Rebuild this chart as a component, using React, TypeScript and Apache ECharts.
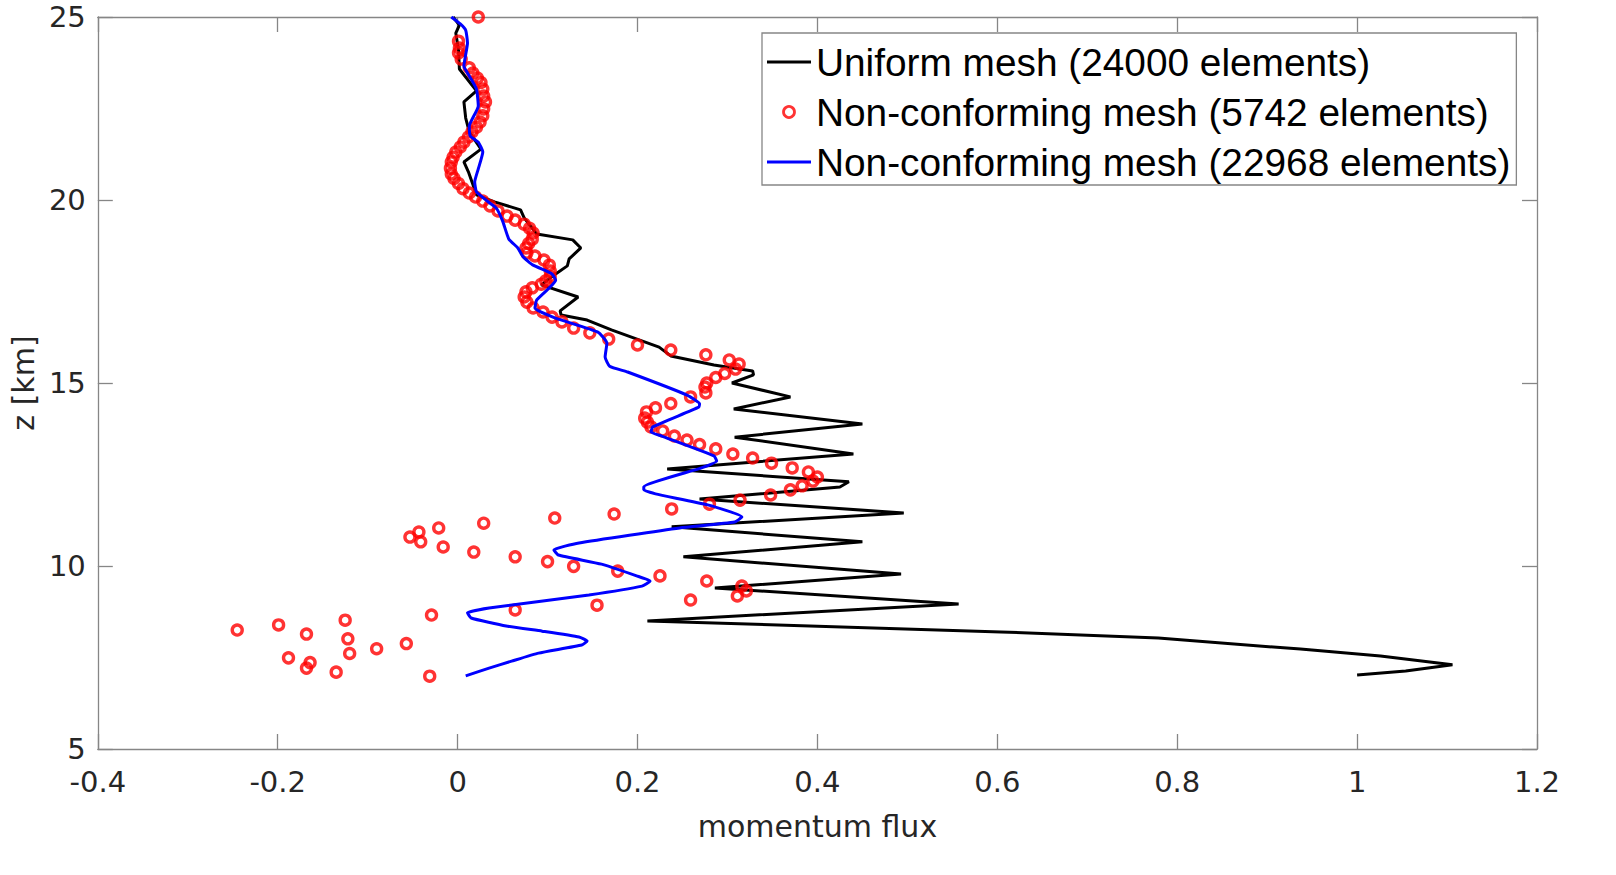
import React, { useEffect, useRef } from "react";
import * as echarts from "echarts";

// [momentum flux, z (km)]
const uniformMesh: [number, number][] = [
  [-0.005, 25.0], [0.002, 24.78], [-0.002, 24.56], [0.001, 24.1], [0.002, 23.58], [0.021, 22.98],
  [0.007, 22.68], [0.009, 22.24], [0.013, 21.86], [0.026, 21.39], [0.007, 21.04], [0.012, 20.77],
  [0.016, 20.49], [0.021, 20.14], [0.041, 19.95], [0.07, 19.73], [0.074, 19.51], [0.088, 19.07],
  [0.128, 18.91], [0.137, 18.69], [0.124, 18.39], [0.122, 18.2], [0.109, 17.98], [0.093, 17.68],
  [0.134, 17.35], [0.114, 16.97], [0.115, 16.86], [0.144, 16.72], [0.171, 16.45], [0.224, 15.98],
  [0.237, 15.74], [0.285, 15.49], [0.328, 15.33], [0.329, 15.22], [0.305, 15.0], [0.37, 14.62],
  [0.307, 14.29], [0.45, 13.88], [0.308, 13.52], [0.44, 13.06], [0.233, 12.65], [0.435, 12.3],
  [0.425, 12.16], [0.269, 11.83], [0.496, 11.45], [0.238, 11.07], [0.45, 10.66], [0.251, 10.25],
  [0.493, 9.78], [0.286, 9.4], [0.557, 8.96], [0.211, 8.5], [0.604, 8.2], [0.779, 8.03],
  [0.937, 7.73], [1.026, 7.54], [1.106, 7.3], [1.054, 7.13], [1.0, 7.02],
];

const coarseNonConforming: [number, number][] = [
  [0.023, 25.0], [0.001, 24.34], [0.002, 24.15], [0.001, 24.02], [0.004, 23.85], [0.013, 23.61],
  [0.017, 23.47], [0.022, 23.33], [0.026, 23.21], [0.028, 23.03], [0.029, 22.84], [0.031, 22.68],
  [0.029, 22.49], [0.028, 22.3], [0.025, 22.13], [0.021, 21.99], [0.016, 21.86], [0.012, 21.72],
  [0.007, 21.58], [0.003, 21.45], [-0.002, 21.31], [-0.005, 21.17], [-0.007, 21.04], [-0.008, 20.87],
  [-0.007, 20.71], [-0.004, 20.59], [0.001, 20.45], [0.006, 20.31], [0.013, 20.19], [0.02, 20.08],
  [0.028, 19.97], [0.036, 19.84], [0.045, 19.7], [0.055, 19.56], [0.064, 19.45], [0.074, 19.34],
  [0.08, 19.23], [0.084, 19.1], [0.083, 18.93], [0.079, 18.81], [0.076, 18.69], [0.077, 18.55],
  [0.086, 18.47], [0.096, 18.36], [0.102, 18.22], [0.103, 18.06], [0.103, 17.9], [0.098, 17.79],
  [0.093, 17.7], [0.083, 17.6], [0.076, 17.49], [0.074, 17.35], [0.077, 17.21], [0.084, 17.05],
  [0.095, 16.94], [0.105, 16.8], [0.116, 16.67], [0.129, 16.5], [0.147, 16.37], [0.168, 16.2],
  [0.2, 16.04], [0.237, 15.9], [0.276, 15.77], [0.302, 15.63], [0.313, 15.52], [0.309, 15.38],
  [0.297, 15.26], [0.287, 15.15], [0.277, 15.0], [0.275, 14.89], [0.276, 14.73], [0.259, 14.62],
  [0.237, 14.44], [0.22, 14.32], [0.21, 14.21], [0.208, 14.04], [0.211, 13.93], [0.215, 13.8],
  [0.228, 13.69], [0.241, 13.55], [0.255, 13.44], [0.269, 13.32], [0.287, 13.2], [0.306, 13.06],
  [0.328, 12.95], [0.349, 12.81], [0.372, 12.68], [0.39, 12.57], [0.4, 12.43], [0.395, 12.32],
  [0.383, 12.19], [0.37, 12.08], [0.348, 11.94], [0.314, 11.8], [0.28, 11.69], [0.238, 11.56],
  [0.174, 11.42], [0.108, 11.31], [0.029, 11.17], [-0.021, 11.04], [-0.043, 10.93], [-0.053, 10.79],
  [-0.041, 10.66], [-0.016, 10.52], [0.018, 10.38], [0.064, 10.25], [0.1, 10.12], [0.129, 9.99],
  [0.178, 9.86], [0.225, 9.73], [0.277, 9.59], [0.316, 9.45], [0.321, 9.32], [0.311, 9.18],
  [0.259, 9.07], [0.155, 8.93], [0.064, 8.8], [-0.029, 8.66], [-0.125, 8.52], [-0.199, 8.39],
  [-0.245, 8.25], [-0.168, 8.14], [-0.122, 8.01], [-0.057, 7.88], [-0.09, 7.74], [-0.12, 7.61],
  [-0.188, 7.49], [-0.164, 7.36], [-0.168, 7.21], [-0.135, 7.1], [-0.031, 6.99],
];

const fineNonConforming: [number, number][] = [
  [-0.007, 25.0], [0.003, 24.81], [0.009, 24.64], [0.011, 24.29], [0.007, 23.66], [0.013, 23.39],
  [0.021, 23.03], [0.023, 22.57], [0.013, 22.02], [0.014, 21.75], [0.023, 21.58], [0.028, 21.31],
  [0.023, 20.85], [0.019, 20.49], [0.021, 20.22], [0.033, 19.97], [0.043, 19.78], [0.05, 19.43],
  [0.057, 18.93], [0.067, 18.69], [0.073, 18.44], [0.084, 18.22], [0.105, 17.98], [0.109, 17.81],
  [0.102, 17.6], [0.088, 17.27], [0.086, 17.05], [0.108, 16.78], [0.156, 16.39], [0.166, 16.09],
  [0.164, 15.71], [0.169, 15.46], [0.189, 15.3], [0.255, 14.67], [0.269, 14.43], [0.268, 14.34],
  [0.217, 13.8], [0.215, 13.66], [0.227, 13.55], [0.285, 13.01], [0.288, 12.87], [0.271, 12.68],
  [0.207, 12.16], [0.207, 12.08], [0.22, 11.97], [0.278, 11.67], [0.316, 11.34], [0.308, 11.2],
  [0.247, 11.04], [0.135, 10.63], [0.107, 10.44], [0.112, 10.3], [0.16, 10.05], [0.199, 9.73],
  [0.214, 9.59], [0.205, 9.45], [0.146, 9.21], [0.035, 8.85], [0.011, 8.72], [0.015, 8.58],
  [0.054, 8.36], [0.094, 8.22], [0.135, 8.06], [0.144, 7.95], [0.138, 7.84], [0.09, 7.62],
  [0.06, 7.4], [0.035, 7.21], [0.009, 7.0],
];

const seriesNames = [
  "Uniform mesh (24000 elements)",
  "Non-conforming mesh (5742 elements)",
  "Non-conforming mesh (22968 elements)",
];

const xRange = { min: -0.4, max: 1.2, step: 0.2 };
const yRange = { min: 5, max: 25, step: 5 };

const AXIS_GRAY = "#868686";
const TEXT_DARK = "#262626";
const AXIS_FONT = "DejaVu Sans";
const LINE_ICON = "path://M0,0H44V3H0Z";

export default function App() {
  const ref = useRef<HTMLDivElement>(null);

  useEffect(() => {
    if (!ref.current) return;
    const chart = echarts.init(ref.current, undefined, { renderer: "svg" });

    const boxAxis = {
      axisLine: { show: true, onZero: false, lineStyle: { color: AXIS_GRAY, width: 1.3 } },
      axisTick: { show: true, inside: true, length: 15, lineStyle: { color: AXIS_GRAY, width: 1.3 } },
      splitLine: { show: false },
    };

    chart.setOption({
      animation: false,
      backgroundColor: "#ffffff",
      grid: { left: 95, top: 17, width: 1442, height: 732, containLabel: false },
      xAxis: [
        {
          type: "value",
          position: "bottom",
          min: xRange.min,
          max: xRange.max,
          interval: xRange.step,
          name: "momentum flux",
          nameLocation: "middle",
          nameGap: 62,
          nameTextStyle: { fontFamily: AXIS_FONT, fontSize: 30, color: TEXT_DARK },
          axisLabel: { fontFamily: AXIS_FONT, fontSize: 29, color: TEXT_DARK, margin: 18 },
          ...boxAxis,
        },
        {
          type: "value",
          position: "top",
          min: xRange.min,
          max: xRange.max,
          interval: xRange.step,
          axisLabel: { show: false },
          ...boxAxis,
        },
      ],
      yAxis: [
        {
          type: "value",
          position: "left",
          min: yRange.min,
          max: yRange.max,
          interval: yRange.step,
          name: "z [km]",
          nameLocation: "middle",
          nameGap: 52,
          nameTextStyle: { fontFamily: AXIS_FONT, fontSize: 30, color: TEXT_DARK },
          axisLabel: { fontFamily: AXIS_FONT, fontSize: 29, color: TEXT_DARK, margin: 12 },
          ...boxAxis,
        },
        {
          type: "value",
          position: "right",
          min: yRange.min,
          max: yRange.max,
          interval: yRange.step,
          axisLabel: { show: false },
          ...boxAxis,
        },
      ],
      legend: {
        orient: "vertical",
        left: 762,
        top: 33,
        padding: [6, 6, 0, 5],
        itemGap: 4,
        itemWidth: 44,
        itemHeight: 11,
        backgroundColor: "#ffffff",
        borderColor: AXIS_GRAY,
        borderWidth: 1.3,
        textStyle: { fontFamily: "Liberation Sans, Arial", fontSize: 38.8, color: "#000000", lineHeight: 46 },
        data: [
          { name: seriesNames[0], icon: LINE_ICON, itemStyle: { color: "#000000", borderWidth: 0 } },
          { name: seriesNames[1], icon: "circle", itemStyle: { color: "rgba(255,255,255,0)", borderColor: "#ff0000", borderWidth: 2.8 } },
          { name: seriesNames[2], icon: LINE_ICON, itemStyle: { color: "#0000ff", borderWidth: 0 } },
        ],
      },
      series: [
        {
          name: seriesNames[0],
          type: "line",
          data: uniformMesh,
          symbol: "none",
          lineStyle: { color: "#000000", width: 3 },
          itemStyle: { color: "#000000" },
          z: 2,
        },
        {
          name: seriesNames[1],
          type: "scatter",
          data: coarseNonConforming,
          symbol: "circle",
          symbolSize: 10,
          itemStyle: { color: "rgba(255,255,255,0)", borderColor: "#ff0000", borderWidth: 3.4 },
          z: 3,
        },
        {
          name: seriesNames[2],
          type: "line",
          data: fineNonConforming,
          symbol: "none",
          smooth: 0.15,
          lineStyle: { color: "#0000ff", width: 3 },
          itemStyle: { color: "#0000ff" },
          z: 4,
        },
      ],
    });

    return () => chart.dispose();
  }, []);

  return (
    <div
      ref={ref}
      style={{ position: "absolute", left: 0, top: 0, width: 1616, height: 875, background: "#ffffff" }}
    />
  );
}
